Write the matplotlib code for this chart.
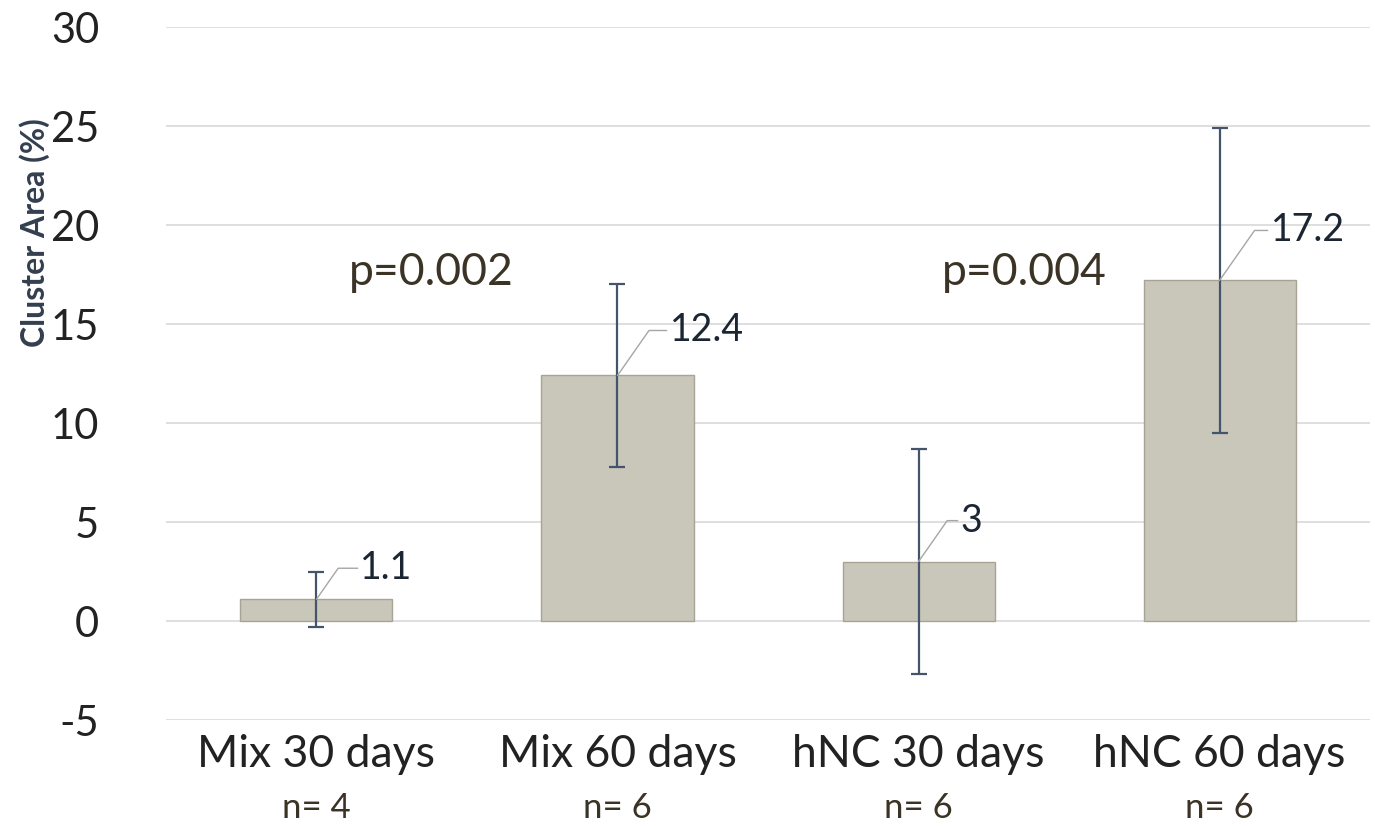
import matplotlib.pyplot as plt
import numpy as np

# values
groups = ['Mix 30 days', 'Mix 60 days', 'hNC 30 days', 'hNC 60 days']
n_labels = ['n= 4', 'n= 6', 'n= 6', 'n= 6']
means = [1.1, 12.4, 3.0, 17.2]
errors = [1.4, 4.6, 5.7, 7.7]
value_labels = ['1.1', '12.4', '3', '17.2']
p_labels = ['p=0.002', 'p=0.004']
p_xpos = [0.38, 2.35]
p_ypos = [17.6, 17.6]
yticks = [-5, 0, 5, 10, 15, 20, 25, 30]

plt.rcParams['font.family'] = ['Lato', 'DejaVu Sans']

fig = plt.figure(figsize=(13.75, 8.26), dpi=100)
ax = fig.add_axes([0.1207, 0.1283, 0.8757, 0.839])

x = np.arange(len(groups))
ax.bar(x, means, width=0.505, color='#c9c6ba', edgecolor='#a8a495', linewidth=1, zorder=2)
ax.errorbar(x, means, yerr=errors, fmt='none', ecolor='#44546a', elinewidth=1.6,
            capsize=6, capthick=1.6, zorder=3)

# data labels with leader lines
label_offsets = [(44, 31), (52, 45), (42, 41), (51, 50)]
for xi, m, lab, off in zip(x, means, value_labels, label_offsets):
    ax.annotate(lab, xy=(xi, m), xytext=off, textcoords='offset pixels',
                ha='left', va='center', fontsize=27, color='#1c2633', zorder=4,
                arrowprops=dict(arrowstyle='-', color='#a6a6a6', lw=1, shrinkA=0, shrinkB=0,
                                relpos=(0, 0.5),
                                connectionstyle='angle,angleA=0,angleB=55,rad=0'))

for px, py, lab in zip(p_xpos, p_ypos, p_labels):
    ax.text(px, py, lab, ha='center', va='center', fontsize=32, color='#3b3426')

ax.set_xlim(-0.5, len(groups) - 0.5)
ax.set_ylim(-5, 30)
ax.set_yticks(yticks)
ax.set_yticklabels([str(t) for t in yticks], fontsize=30, color='#222222')
ax.set_xticks(x)
ax.set_xticklabels(groups, fontsize=32, color='#222222')
ax.tick_params(axis='y', length=0, pad=48)
ax.tick_params(axis='x', length=0, pad=10)
ax.grid(axis='y', color='#d9d9d9', linewidth=1.2, zorder=0)
ax.set_axisbelow(True)
for s in ax.spines.values():
    s.set_visible(False)

for xi, lab in zip(x, n_labels):
    ax.text(xi, -0.127, lab, transform=ax.get_xaxis_transform(), ha='center', va='center',
            fontsize=25, color='#3b3426')

ax.text(-0.109, 0.704, 'Cluster Area (%)', transform=ax.transAxes, rotation=90,
        ha='center', va='center', fontsize=23, fontweight='bold', color='#333f4f')

fig.savefig('out.png', dpi=100)
